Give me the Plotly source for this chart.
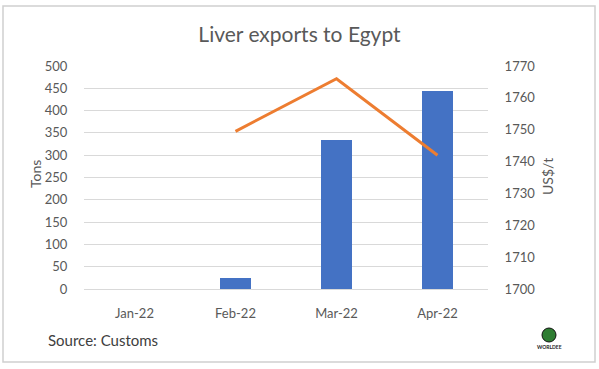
import plotly.graph_objects as go

months = ["Jan-22", "Feb-22", "Mar-22", "Apr-22"]
tons = [0, 24, 334, 445]
price = [None, 1749.5, 1766, 1742]

W, H = 599, 369
L, R, T, B = 84, 111, 66, 80
pw, ph = W - L - R, H - T - B

def px(x):
    return (x - L) / pw

def py(y):
    return 1 - (y - T) / ph

font = "Lato, Carlito, 'Liberation Sans', sans-serif"
grey = "#595959"

fig = go.Figure()
fig.add_trace(go.Bar(x=months, y=tons, marker_color="#4472C4", marker_line_width=0, width=0.31, yaxis="y"))
fig.add_trace(go.Scatter(x=months, y=price, mode="lines", line=dict(color="#ED7D31", width=3), yaxis="y2"))

fig.update_layout(
    width=W, height=H,
    margin=dict(l=L, r=R, t=T, b=B),
    paper_bgcolor="white", plot_bgcolor="white",
    showlegend=False,
    font=dict(family=font, color=grey, size=13),
    title=dict(text="Liver exports to Egypt", x=0.5, xanchor="center", y=1 - 35 / H, yanchor="middle",
               font=dict(size=21, color=grey)),
    xaxis=dict(showgrid=False, showline=True, linecolor="#d9d9d9", linewidth=1,
               ticks="outside", ticklen=12, tickcolor="rgba(0,0,0,0)", tickfont=dict(size=13, color=grey)),
    yaxis=dict(range=[0, 500], dtick=50, showgrid=True, gridcolor="#d9d9d9", gridwidth=1,
               zeroline=False, ticks="outside", ticklen=13, tickcolor="rgba(0,0,0,0)",
               tickfont=dict(size=13, color=grey)),
    yaxis2=dict(range=[1700, 1770], dtick=10, overlaying="y", side="right", showgrid=False,
                zeroline=False, ticks="outside", ticklen=13, tickcolor="rgba(0,0,0,0)",
                tickfont=dict(size=13, color=grey)),
    bargap=0,
)

fig.add_annotation(text="Tons", xref="paper", yref="paper", x=px(35), y=py(174), textangle=-90,
                   showarrow=False, font=dict(size=14, color=grey), xanchor="center", yanchor="middle")
fig.add_annotation(text="US$/t", xref="paper", yref="paper", x=px(547), y=py(177), textangle=-90,
                   showarrow=False, font=dict(size=14, color=grey), xanchor="center", yanchor="middle")
fig.add_annotation(text="Source: Customs", xref="paper", yref="paper", x=px(46), y=py(340),
                   showarrow=False, font=dict(size=15, color="#404040"), xanchor="left", yanchor="middle")
# small logo placeholder
fig.add_annotation(text="<b>WORLDEE</b>", xref="paper", yref="paper", x=px(549), y=py(347),
                   showarrow=False, font=dict(size=5, color="#222"), xanchor="center", yanchor="middle")
fig.add_shape(type="circle", xref="paper", yref="paper", x0=px(542), x1=px(556), y0=py(342), y1=py(328),
              fillcolor="#2e7d32", line=dict(color="#111", width=1))

fig.add_shape(type="rect", xref="paper", yref="paper", x0=px(3), x1=px(595), y0=py(6), y1=py(362),
              line=dict(color="#d0d0d0", width=1.5), fillcolor="rgba(0,0,0,0)", layer="below")

fig.write_html("out.html", config={"displayModeBar": False})

with open("out.html", "r", encoding="utf-8") as f:
    html = f.read()
html = html.replace("<body>", "<body style=\"margin:0;padding:0;\">", 1)
html = html.replace("<head>", "<head><style>html,body{margin:0;padding:0;overflow:hidden;}</style>", 1)
with open("out.html", "w", encoding="utf-8") as f:
    f.write(html)
